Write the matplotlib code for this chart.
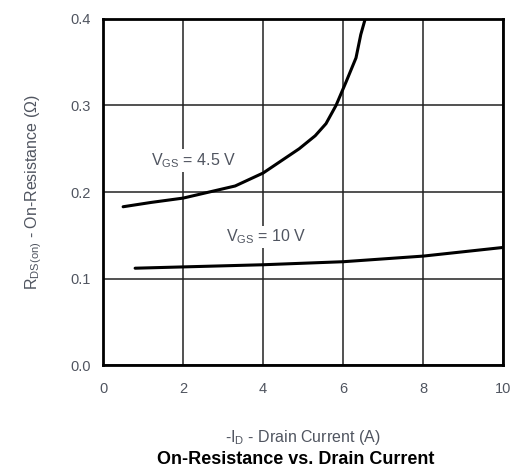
import matplotlib

matplotlib.use("Agg")

import matplotlib.pyplot as plt

plt.rcParams["font.family"] = ["Liberation Sans", "DejaVu Sans"]
plt.rcParams["mathtext.fontset"] = "custom"
plt.rcParams["mathtext.rm"] = "Liberation Sans"

# -I_D drain current (A) vs R_DS(on) (ohm)
ID_45V = [0.5, 1.2, 2.0, 2.65, 3.3, 4.0, 4.45, 4.9, 5.3, 5.57, 5.82, 6.07, 6.32, 6.44, 6.55]
RDS_45V = [0.183, 0.188, 0.193, 0.200, 0.207, 0.222, 0.236, 0.250, 0.265, 0.279,
           0.300, 0.327, 0.355, 0.382, 0.400]

ID_10V = [0.8, 2.0, 4.0, 6.0, 8.0, 10.0]
RDS_10V = [0.112, 0.1135, 0.116, 0.1195, 0.126, 0.136]

X_TICKS = [0, 2, 4, 6, 8, 10]
Y_TICKS = [0.0, 0.1, 0.2, 0.3, 0.4]
Y_TICK_LABELS = ["0.0", "0.1", "0.2", "0.3", "0.4"]

TEXT_GREY = "#505560"

fig = plt.figure(figsize=(5.13, 4.73), dpi=100)
ax = fig.add_axes([0.201, 0.228, 0.78, 0.732])

for xs, ys in [(ID_45V, RDS_45V), (ID_10V, RDS_10V)]:
    ax.plot(xs, ys, color="black", linewidth=2.2, solid_capstyle="round",
            solid_joinstyle="round", zorder=3)

ax.set_xlim(0, 10)
ax.set_ylim(0, 0.4)
ax.set_xticks(X_TICKS)
ax.set_yticks(Y_TICKS)
ax.set_yticklabels(Y_TICK_LABELS)
ax.tick_params(axis="both", length=0, labelsize=10.5, colors=TEXT_GREY)
ax.tick_params(axis="x", pad=12)
ax.tick_params(axis="y", pad=9)
ax.grid(True, color="#222222", linewidth=1.1)
for spine in ax.spines.values():
    spine.set_linewidth(2.0)
    spine.set_color("black")

box = dict(facecolor="white", edgecolor="none", pad=1.5)
ax.text(1.2, 0.236, r"V$_{\mathregular{GS}}$ = 4.5 V", fontsize=11.5, color=TEXT_GREY,
        va="center", ha="left", bbox=box, zorder=4)
ax.text(3.07, 0.148, r"V$_{\mathregular{GS}}$ = 10 V", fontsize=11.5, color=TEXT_GREY,
        va="center", ha="left", bbox=box, zorder=4)

ax.set_ylabel(r"R$_{\mathregular{DS(on)}}$ - On-Resistance ($\Omega$)", fontsize=11.5,
              color=TEXT_GREY, labelpad=19)
ax.set_xlabel(r"-I$_{\mathregular{D}}$ - Drain Current (A)", fontsize=11.5,
              color=TEXT_GREY, labelpad=23)
fig.text(0.577, 0.028, "On-Resistance vs. Drain Current", ha="center", va="center",
         fontsize=13, fontweight="bold", color="black")

fig.savefig("out.png", dpi=100)
